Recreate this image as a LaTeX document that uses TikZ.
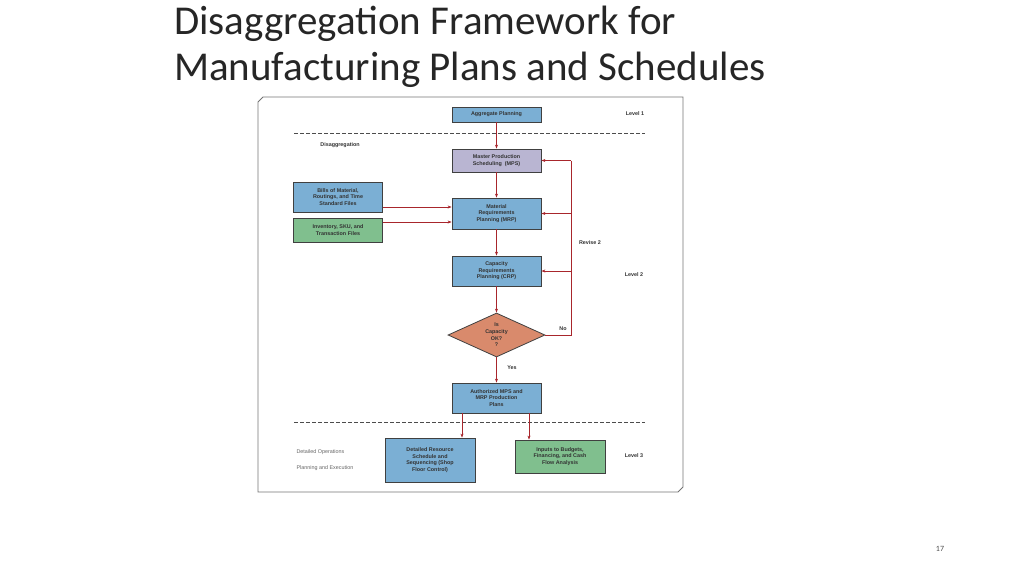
\documentclass[tikz,border=0pt]{standalone}
\usepackage{fontspec}
\setmainfont{Carlito}
\newfontfamily\boxfont{Liberation Sans}
\usetikzlibrary{shapes.geometric,arrows.meta}
\definecolor{bblue}{HTML}{7BAFD4}
\definecolor{bpurp}{HTML}{B9B5D2}
\definecolor{bgreen}{HTML}{80BF8E}
\definecolor{borange}{HTML}{D98A6C}
\definecolor{ared}{HTML}{A8262C}
\tikzset{
 bx/.style={draw=black!75,line width=0.8pt,minimum width=89pt,align=center,inner sep=1pt,font=\boxfont\bfseries\fontsize{5.4}{6.6}\selectfont,text=black!80},
 lbl/.style={font=\boxfont\bfseries\fontsize{5.4}{6.6}\selectfont,text=black!80},
 arr/.style={draw=ared,line width=0.9pt,-{Stealth[length=4pt,width=3pt]}},
 ln/.style={draw=ared,line width=0.9pt},
 dsh/.style={draw=black!70,line width=1pt,dash pattern=on 4pt off 2pt},
 ttl/.style={anchor=west,font=\fontsize{41}{48}\selectfont,text=black!85,inner sep=0pt}
}
\begin{document}
\begin{tikzpicture}[x=1pt,y=-1pt]
\useasboundingbox (0,0) rectangle (1024,576);
\node[ttl] (t1) at (174,24) {Disaggregation Framework for};
\node[ttl] (t2) at (174,70) {Manufacturing Plans and Schedules};
\node[font=\fontsize{8}{9}\selectfont,text=black!70] (pg) at (940,549) {17};
\draw[black!55,line width=0.8pt] (263,97) -- (683,97) -- (683,487) -- (678,492) -- (258,492) -- (258,102) -- cycle;
\draw[dsh] (294,133) -- (645,133);
\draw[dsh] (294,422) -- (645,422);
\node[bx,fill=bblue,minimum height=15pt] (agg) at (496.5,114.5) {Aggregate Planning};
\node[bx,fill=bpurp,minimum height=23pt] (mps) at (496.5,160.5) {Master Production\\Scheduling \ (MPS)};
\node[bx,fill=bblue,minimum height=30pt] (bom) at (338,197) {Bills of Material,\\Routings, and Time\\Standard Files};
\node[bx,fill=bgreen,minimum height=24pt] (inv) at (338,230) {Inventory, SKU, and\\Transaction Files};
\node[bx,fill=bblue,minimum height=31pt] (mrp) at (496.5,213.5) {Material\\Requirements\\Planning (MRP)};
\node[bx,fill=bblue,minimum height=30pt] (crp) at (496.5,271) {Capacity\\Requirements\\Planning (CRP)};
\node[bx,diamond,aspect=2.2,fill=borange,minimum width=97pt,minimum height=44pt,inner sep=0pt] (dec) at (496.5,335) {Is\\Capacity\\OK?\\?};
\node[bx,fill=bblue,minimum height=30pt] (auth) at (496.5,398) {Authorized MPS and\\MRP Production\\Plans};
\node[bx,fill=bblue,minimum width=90pt,minimum height=44pt] (det) at (430,460) {Detailed Resource\\Schedule and\\Sequencing (Shop\\Floor Control)};
\node[bx,fill=bgreen,minimum width=90pt,minimum height=33pt] (inp) at (560,456.5) {Inputs to Budgets,\\Financing, and Cash\\Flow Analysis};
\node[lbl] (l1) at (635,114) {Level 1};
\node[lbl] (l2) at (634,275) {Level 2};
\node[lbl] (l3) at (634,456) {Level 3};
\node[lbl] (rv) at (590,243) {Revise 2};
\node[lbl] (dis) at (340,145) {Disaggregation};
\node[lbl] (no) at (563,329) {No};
\node[lbl] (yes) at (512,368) {Yes};
\node[font=\boxfont\fontsize{5.4}{6.6}\selectfont,text=black!60,anchor=west] (do) at (293,452) {Detailed Operations};
\node[font=\boxfont\fontsize{5.4}{6.6}\selectfont,text=black!60,anchor=west] (pe) at (293,468) {Planning and Execution};
\draw[arr] (agg) -- (mps);
\draw[arr] (mps) -- (mrp);
\draw[arr] (mrp) -- (crp);
\draw[arr] (crp) -- (dec);
\draw[arr] (dec) -- (auth);
\draw[arr] (bom.east |- 0,207) -- (mrp.west |- 0,207);
\draw[arr] (inv.east |- 0,222) -- (mrp.west |- 0,222);
\coordinate (rt) at (571,160.5);
\coordinate (rb) at (571,335);
\draw[ln] (dec.east) -- (rb) -- (rt);
\draw[arr] (rt) -- (mps.east);
\draw[arr] (rt |- mrp.east) -- (mrp.east);
\draw[arr] (rt |- crp.east) -- (crp.east);
\draw[arr] (auth.south -| 462,0) -- (det.north -| 462,0);
\draw[arr] (auth.south -| 529,0) -- (inp.north -| 529,0);
\end{tikzpicture}
\end{document}
